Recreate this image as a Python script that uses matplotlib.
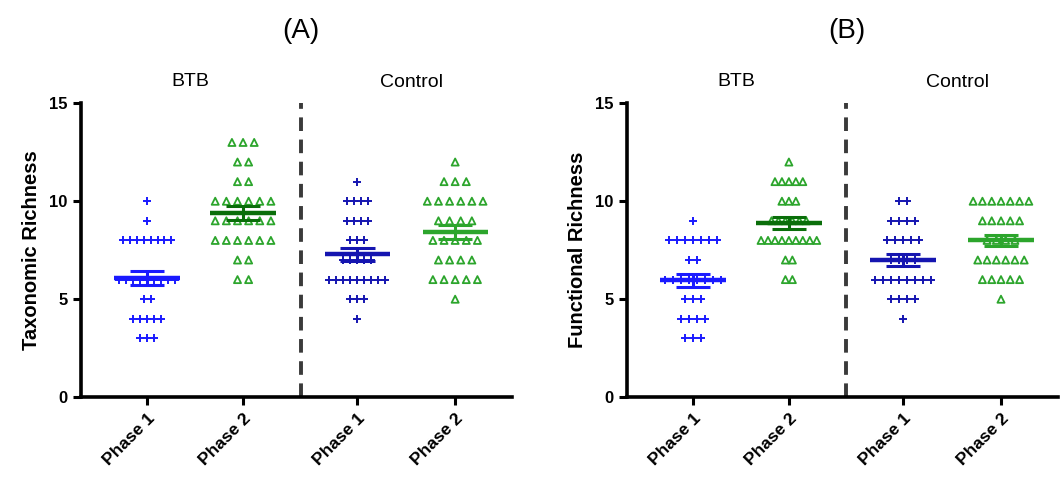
import numpy as np
import matplotlib
matplotlib.use("Agg")
import matplotlib.pyplot as plt
import matplotlib.transforms as mtransforms

plt.rcParams['font.family'] = ['Liberation Sans', 'DejaVu Sans']

# ---- data (value levels and number of points at each level) ----
groups = ["BTB", "Control"]
phases = ["Phase 1", "Phase 2"]

tax_btb_p1_vals = [10, 9, 8, 6, 5, 4, 3]
tax_btb_p1_counts = [1, 1, 8, 9, 2, 5, 3]
tax_btb_p2_vals = [13, 12, 11, 10, 9, 8, 7, 6]
tax_btb_p2_counts = [3, 2, 2, 6, 6, 6, 2, 2]
tax_ctl_p1_vals = [11, 10, 9, 8, 7, 6, 5, 4]
tax_ctl_p1_counts = [1, 4, 4, 3, 5, 9, 3, 1]
tax_ctl_p2_vals = [12, 11, 10, 9, 8, 7, 6, 5]
tax_ctl_p2_counts = [1, 3, 6, 4, 5, 4, 5, 1]

fun_btb_p1_vals = [9, 8, 7, 6, 5, 4, 3]
fun_btb_p1_counts = [1, 7, 2, 8, 3, 4, 3]
fun_btb_p2_vals = [12, 11, 10, 9, 8, 7, 6]
fun_btb_p2_counts = [1, 5, 3, 6, 9, 2, 2]
fun_ctl_p1_vals = [10, 9, 8, 7, 6, 5, 4]
fun_ctl_p1_counts = [2, 4, 5, 4, 8, 4, 1]
fun_ctl_p2_vals = [10, 9, 8, 7, 6, 5]
fun_ctl_p2_counts = [7, 5, 4, 6, 5, 1]

yticks = [0, 5, 10, 15]

panels = [
    dict(title="(A)", ylabel="Taxonomic Richness",
         data=[(tax_btb_p1_vals, tax_btb_p1_counts), (tax_btb_p2_vals, tax_btb_p2_counts),
               (tax_ctl_p1_vals, tax_ctl_p1_counts), (tax_ctl_p2_vals, tax_ctl_p2_counts)]),
    dict(title="(B)", ylabel="Functional Richness",
         data=[(fun_btb_p1_vals, fun_btb_p1_counts), (fun_btb_p2_vals, fun_btb_p2_counts),
               (fun_ctl_p1_vals, fun_ctl_p1_counts), (fun_ctl_p2_vals, fun_ctl_p2_counts)]),
]

# ---- styling ----
xpos = [0, 1, 2.19, 3.21]
divider_x = 1.6
point_colors = ["#1a1aff", "#2ca52c", "#1515b0", "#2ca52c"]
mean_colors = ["#1a1aff", "#0a6e0a", "#1515b0", "#2ca52c"]
markers = ["+", "^", "+", "^"]
row_span = 0.58

fig = plt.figure(figsize=(10.64, 4.94), dpi=100)
axes_rects = [[0.076, 0.196, 0.405, 0.595], [0.589, 0.196, 0.405, 0.595]]

for rect, p in zip(axes_rects, panels):
    ax = fig.add_axes(rect)
    for i, (vals, counts) in enumerate(p["data"]):
        step = row_span / (max(counts) - 1)
        allv = []
        xs, ys = [], []
        for v, c in zip(vals, counts):
            offs = (np.arange(c) - (c - 1) / 2.0) * step
            xs.extend(xpos[i] + offs)
            ys.extend([v] * c)
            allv.extend([v] * c)
        allv = np.array(allv, dtype=float)
        if markers[i] == "+":
            ax.scatter(xs, ys, marker="+", s=32, color=point_colors[i], linewidths=1.4, zorder=3)
        else:
            ax.scatter(xs, ys, marker="^", s=26, facecolors="none",
                       edgecolors=point_colors[i], linewidths=1.3, zorder=3)
        m = allv.mean()
        sem = allv.std(ddof=1) / np.sqrt(len(allv))
        ax.hlines(m, xpos[i] - 0.34, xpos[i] + 0.34, color=mean_colors[i], lw=3.2, zorder=4)
        ax.vlines(xpos[i], m - sem, m + sem, color=mean_colors[i], lw=2.2, zorder=4)
        ax.hlines([m - sem, m + sem], xpos[i] - 0.18, xpos[i] + 0.18,
                  color=mean_colors[i], lw=2.2, zorder=4)

    ax.axvline(divider_x, color="#3a3a3a", lw=2.8, ls=(0, (3.5, 2.2)), zorder=2)
    ax.set_xlim(-0.69, 3.8)
    ax.set_ylim(0, 15)
    ax.set_yticks(yticks)
    ax.set_yticklabels([str(t) for t in yticks], fontsize=12, fontweight="bold")
    ax.set_xticks(xpos)
    ax.set_xticklabels(phases * 2, rotation=45, ha="right", rotation_mode="anchor",
                       fontsize=12.5, fontweight="bold")
    ax.tick_params(axis="both", width=2.2, length=6, direction="out")
    for s in ["top", "right"]:
        ax.spines[s].set_visible(False)
    for s in ["left", "bottom"]:
        ax.spines[s].set_linewidth(2.6)
    ax.set_ylabel(p["ylabel"], fontsize=14.5, fontweight="bold", labelpad=6)

    trans = mtransforms.blended_transform_factory(ax.transData, ax.transAxes)
    ax.text(divider_x, 1.245, p["title"], transform=trans, ha="center", va="center", fontsize=20)
    ax.text(0.45, 1.075, groups[0], transform=trans, ha="center", va="center", fontsize=14)
    ax.text(2.76, 1.07, groups[1], transform=trans, ha="center", va="center", fontsize=14)

fig.savefig("out.png", dpi=100)
